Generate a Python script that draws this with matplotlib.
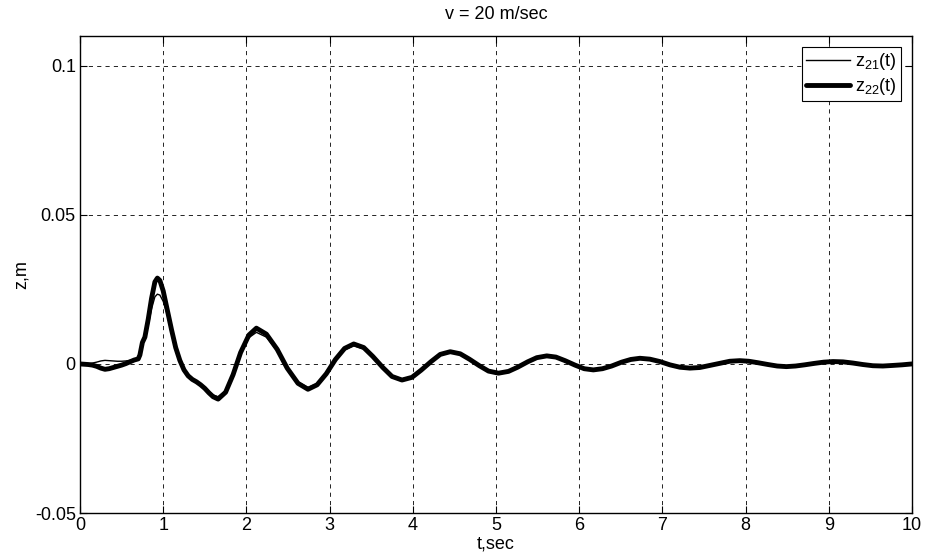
import matplotlib
matplotlib.use("Agg")
import matplotlib.pyplot as plt

plt.rcParams['font.family'] = ['Liberation Sans', 'DejaVu Sans']

t = [0, 0.05, 0.1, 0.15, 0.2, 0.25, 0.3, 0.35, 0.4, 0.45, 0.5, 0.55, 0.6, 0.65, 0.7,
     0.72, 0.75, 0.78, 0.82, 0.86, 0.9, 0.93, 0.96, 1.0, 1.05, 1.1, 1.15, 1.2, 1.25,
     1.3, 1.35, 1.4, 1.45, 1.5, 1.55, 1.6, 1.66,
     1.75, 1.84, 1.93, 2.03, 2.12, 2.24, 2.37, 2.49, 2.62, 2.74, 2.85, 2.96, 3.07,
     3.18, 3.29, 3.41, 3.52, 3.64, 3.75, 3.87, 3.99, 4.10, 4.22, 4.33, 4.45, 4.57,
     4.68, 4.80, 4.91, 5.03, 5.15, 5.26, 5.38, 5.49, 5.61, 5.72, 5.83, 5.95, 6.06,
     6.17, 6.28, 6.39, 6.51, 6.62, 6.73, 6.85, 6.97, 7.09, 7.21, 7.33, 7.45, 7.57,
     7.69, 7.81, 7.93, 8.04, 8.15, 8.27, 8.38, 8.49, 8.60, 8.71, 8.83, 8.94, 9.05,
     9.17, 9.29, 9.41, 9.53, 9.65, 9.77, 9.88, 10.0]

z22 = [0.0, -0.0001, -0.0002, -0.0004, -0.0008, -0.0014, -0.0018, -0.0016, -0.0012,
       -0.0008, -0.0004, 0.0001, 0.0007, 0.0013, 0.0017,
       0.0030, 0.0072, 0.0090, 0.0150, 0.0220, 0.0275, 0.0288, 0.0280, 0.0245, 0.0180,
       0.0115, 0.0055, 0.0012, -0.0020, -0.0040, -0.0052, -0.0060, -0.0070, -0.0082,
       -0.0097, -0.0110, -0.0118,
       -0.0095, -0.0036, 0.0038, 0.0097, 0.0120, 0.0100, 0.0049, -0.0014, -0.0065,
       -0.0085, -0.0070, -0.0033, 0.0015, 0.0052, 0.0067, 0.0055, 0.0025, -0.0012,
       -0.0042, -0.0054, -0.0045, -0.0021, 0.0008, 0.0032, 0.0041, 0.0034, 0.0016,
       -0.0006, -0.0024, -0.0031, -0.0025, -0.0011, 0.0007, 0.0021, 0.0027, 0.0023,
       0.0011, -0.0004, -0.0016, -0.0020, -0.0016, -0.0007, 0.0006, 0.0015, 0.0019,
       0.0016, 0.0008, -0.0003, -0.0011, -0.0014, -0.0012, -0.0005, 0.0002, 0.0009,
       0.0011, 0.0009, 0.0004, -0.0002, -0.0007, -0.0009, -0.0007, -0.0003, 0.0002,
       0.0006, 0.0008, 0.0007, 0.0003, -0.0002, -0.0006, -0.0007, -0.0005, -0.0003, 0.0]

z21 = [0.0, 0.0, 0.0001, 0.0003, 0.0006, 0.0010, 0.0012, 0.0011, 0.0010, 0.0009,
       0.0009, 0.0010, 0.0012, 0.0015, 0.0017,
       0.0028, 0.0065, 0.0082, 0.0130, 0.0185, 0.0225, 0.0234, 0.0231, 0.0210, 0.0165,
       0.0108, 0.0052, 0.0010, -0.0020, -0.0038, -0.0050, -0.0058, -0.0068, -0.0078,
       -0.0092, -0.0104, -0.0110,
       -0.0090, -0.0035, 0.0034, 0.0088, 0.0106, 0.0090, 0.0044, -0.0013, -0.0060,
       -0.0079, -0.0066, -0.0031, 0.0013, 0.0047, 0.0061, 0.0050, 0.0023, -0.0011,
       -0.0039, -0.0050, -0.0042, -0.0020, 0.0007, 0.0030, 0.0038, 0.0032, 0.0015,
       -0.0006, -0.0022, -0.0029, -0.0024, -0.0010, 0.0006, 0.0019, 0.0025, 0.0022,
       0.0010, -0.0004, -0.0015, -0.0019, -0.0015, -0.0007, 0.0005, 0.0014, 0.0018,
       0.0015, 0.0008, -0.0003, -0.0010, -0.0013, -0.0011, -0.0005, 0.0002, 0.0008,
       0.0010, 0.0008, 0.0004, -0.0002, -0.0006, -0.0008, -0.0007, -0.0003, 0.0002,
       0.0005, 0.0007, 0.0006, 0.0003, -0.0002, -0.0005, -0.0006, -0.0005, -0.0003, 0.0]

xticks = [0, 1, 2, 3, 4, 5, 6, 7, 8, 9, 10]
yticks = [-0.05, 0, 0.05, 0.1]
ytick_labels = ['-0.05', '0', '0.05', '0.1']

fig = plt.figure(figsize=(9.26, 5.57), dpi=100)
ax = fig.add_axes([80/926, 1-513/557, 832/926, 477/557])

ax.plot(t, z21, color='black', lw=1.0, label=r'$\mathregular{z_{21}(t)}$', zorder=4,
        solid_joinstyle='round')
ax.plot(t, z22, color='black', lw=3.5, label=r'$\mathregular{z_{22}(t)}$', zorder=3,
        solid_joinstyle='round', solid_capstyle='round')

ax.set_xlim(0, 10)
ax.set_ylim(-0.05, 0.11)
ax.set_xticks(xticks)
ax.set_yticks(yticks)
ax.set_yticklabels(ytick_labels)
ax.tick_params(direction='in', top=True, right=True, length=5, labelsize=13, width=0.8,
               pad=3)
ax.grid(True, color='black', linestyle=(0, (5, 5)), linewidth=0.6)
for s in ax.spines.values():
    s.set_linewidth(1.0)

ax.set_title('v = 20 m/sec', fontsize=13, pad=12)
ax.set_xlabel('t,sec', fontsize=13, labelpad=1)
ax.set_ylabel('z,m', fontsize=13, labelpad=4)

leg = ax.legend(loc='upper right', fontsize=13, frameon=True, fancybox=False,
                edgecolor='black', framealpha=1, borderaxespad=0.6,
                handlelength=2.4, borderpad=0.25, labelspacing=0.2, handletextpad=0.3)
leg.get_frame().set_linewidth(0.8)

fig.savefig('out.png', dpi=100)
